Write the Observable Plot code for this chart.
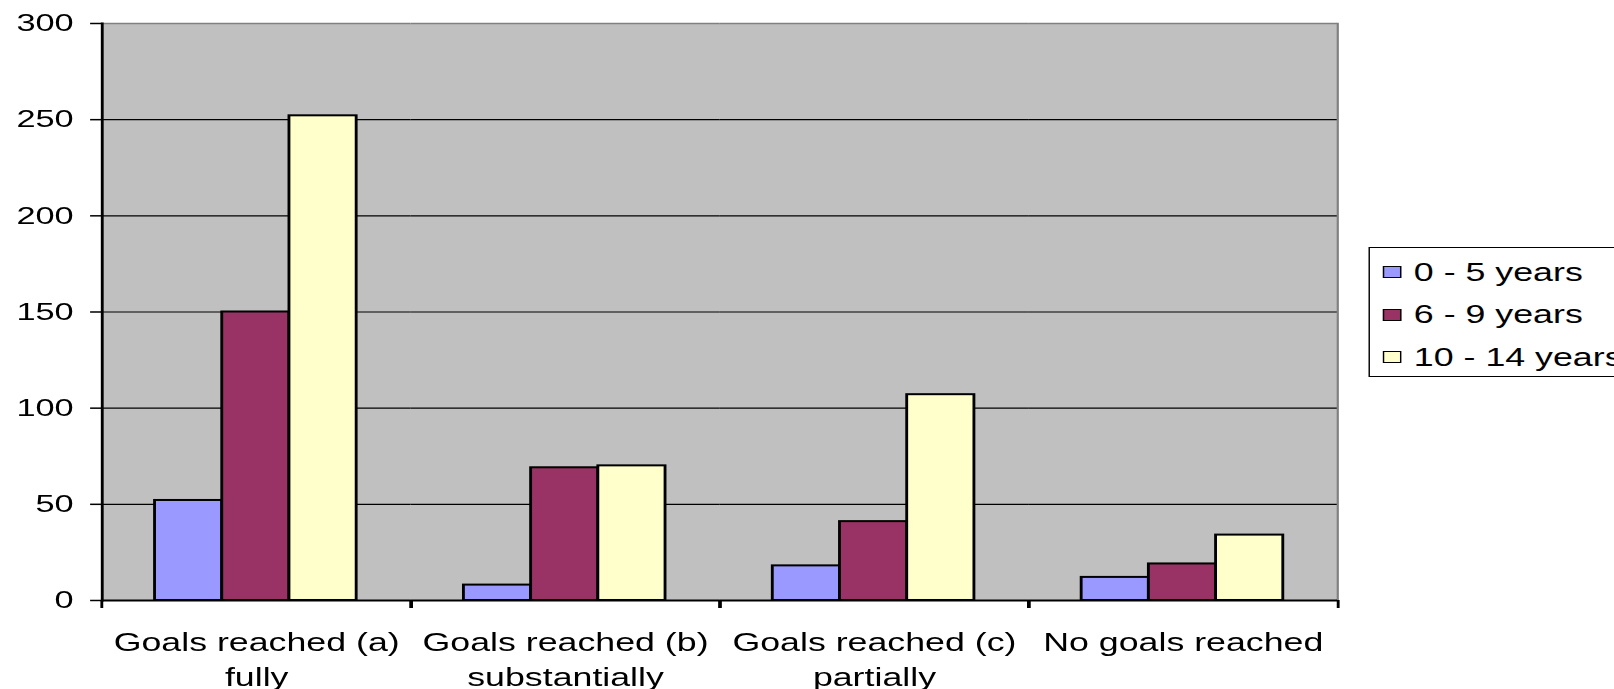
<!DOCTYPE html>
<html><head><meta charset="utf-8">
<script src="https://cdn.jsdelivr.net/npm/d3@7"></script>
<script src="https://cdn.jsdelivr.net/npm/@observablehq/plot@0.6"></script>
<style>
html,body{margin:0;padding:0;background:#fff;overflow:hidden;}
#wrap{position:relative;height:689px;transform-origin:0 0;font-family:"Liberation Sans",Arial,sans-serif;}
#legend{position:absolute;border:1.5px solid #000;background:#fff;box-sizing:border-box;padding-top:3px;}
.row{display:flex;align-items:center;height:42.5px;white-space:nowrap;font-size:25px;color:#000;}
.sw{width:13px;height:12px;border:1.5px solid #000;box-sizing:border-box;margin-right:9px;flex:none;}
</style></head><body>
<div id="wrap"><div id="chart"></div><div id="legend"></div></div>
<script>
const categories = ["Goals reached (a)\nfully", "Goals reached (b)\nsubstantially", "Goals reached (c)\npartially", "No goals reached"];
const series = ["0 - 5 years", "6 - 9 years", "10 - 14 years"];
const values0to5 = [52, 8, 18, 12];
const values6to9 = [150, 69, 41, 19];
const values10to14 = [252, 70, 107, 34];
const colors = ["#9999ff", "#993366", "#ffffcc"];
const yTicks = [0, 50, 100, 150, 200, 250, 300];

const seriesValues = [values0to5, values6to9, values10to14];
const data = categories.flatMap((c, i) => series.map((s, j) => ({category: c, series: s, value: seriesValues[j][i]})));

const S = 1.43;                 // horizontal stretch of the original picture
const W = 1614 / S;
const mL = 100 / S;
const mR = W - 1339 / S;
const step = (W - mL - mR) / categories.length;
const last = categories[categories.length - 1];

const wrap = document.getElementById("wrap");
wrap.style.width = W + "px";
wrap.style.transform = `scaleX(${S})`;

const chart = Plot.plot({
  width: W, height: 689,
  marginLeft: mL, marginRight: mR, marginTop: 23, marginBottom: 89,
  style: {fontFamily: "Liberation Sans, Arial, sans-serif", fontSize: "24px", color: "#000", background: "transparent", overflow: "visible"},
  fx: {domain: categories, padding: 0, label: null},
  x: {domain: series, paddingInner: 0, paddingOuter: 0.765, axis: null},
  y: {domain: [0, 300], label: null},
  color: {domain: series, range: colors},
  marks: [
    Plot.frame({fill: "#c0c0c0", stroke: null, insetLeft: -0.6, insetRight: -0.6}),
    Plot.gridY(yTicks.slice(1, -1), {stroke: "#000", strokeOpacity: 1, strokeWidth: 1.2}),
    Plot.ruleY([300], {stroke: "#808080", strokeWidth: 1.5}),
    Plot.frame({anchor: "right", facetAnchor: "right", stroke: "#808080", strokeWidth: 1.5}),
    Plot.barY(data, {fx: "category", x: "series", y: "value", fill: "series", stroke: "#000", strokeWidth: 2, inset: 0}),
    Plot.ruleY([0], {stroke: "#000", strokeWidth: 2}),
    Plot.frame({anchor: "left", facetAnchor: "left", stroke: "#000", strokeWidth: 2}),
    Plot.axisY(yTicks, {tickSize: 8, tickPadding: 12, strokeWidth: 1.5, fontSize: 24, label: null}),
    Plot.axisFx({anchor: "bottom", tickSize: 8, dx: -step / 2, text: null, strokeWidth: 2, label: null}),
    Plot.axisFx([last], {anchor: "bottom", tickSize: 8, dx: step / 2, text: null, strokeWidth: 2, label: null}),
    Plot.axisFx({anchor: "bottom", tickSize: 0, tickPadding: 26, lineHeight: 1.4, fontSize: 25, label: null})
  ]
});
document.getElementById("chart").appendChild(chart);

const legend = document.getElementById("legend");
legend.style.left = (1368 / S) + "px";
legend.style.top = "247px";
legend.style.width = "200px";
legend.style.height = "130px";
legend.style.paddingLeft = (13 / S) + "px";
series.forEach((s, i) => {
  const row = document.createElement("div");
  row.className = "row";
  const sw = document.createElement("div");
  sw.className = "sw";
  sw.style.background = colors[i];
  const t = document.createElement("span");
  t.textContent = s;
  row.appendChild(sw);
  row.appendChild(t);
  legend.appendChild(row);
});
</script>
</body></html>
